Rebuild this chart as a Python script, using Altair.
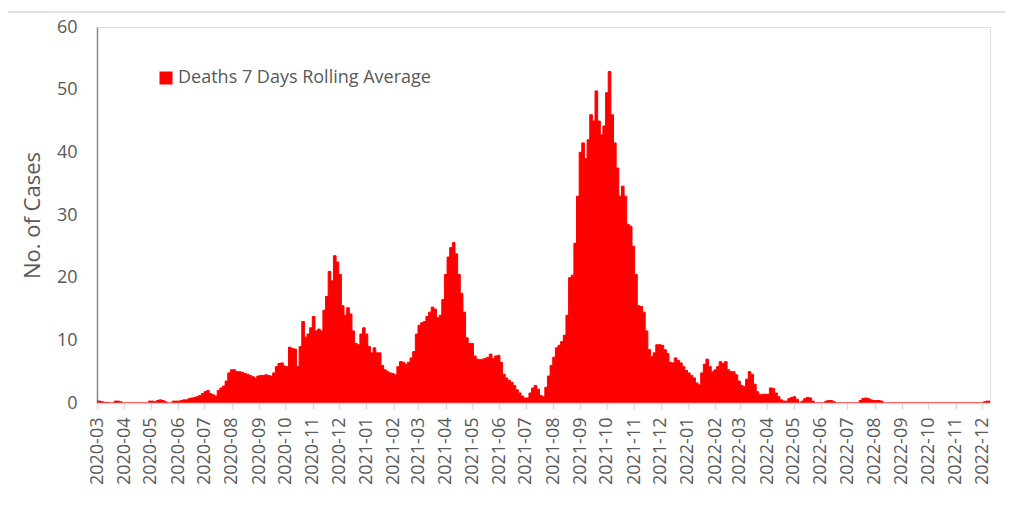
import altair as alt
import pandas as pd

# ---- data (7-day rolling average of deaths, sampled every 3 days from 2020-03-01) ----
start_date = "2020-03-01"
step_days = 3
series_name = "Deaths 7 Days Rolling Average"

vals_2020 = [
    0.3, 0.3, 0.2, 0.1, 0.1, 0, 0, 0.3, 0.3, 0.2,
    0, 0, 0, 0, 0, 0, 0, 0, 0, 0,
    0.3, 0.3, 0.2, 0.4, 0.5, 0.4, 0.2, 0, 0, 0.3,
    0.3, 0.3, 0.4, 0.5, 0.5, 0.7, 0.8, 0.9, 1.0, 1.2,
    1.5, 1.8, 2.0, 1.5, 1.3, 1.1, 2.0, 2.4, 2.7, 3.5,
    4.8, 5.3, 5.3, 5.0, 5.0, 4.9, 4.7, 4.6, 4.4, 4.2,
    4.0, 4.3, 4.4, 4.4, 4.5, 4.4, 4.3, 4.8, 5.8, 6.3,
    6.4, 5.9, 5.8, 8.9, 8.7, 8.6, 5.8, 9.0, 13.0, 10.5,
    11.0, 12.0, 13.8, 11.5, 11.8, 11.5, 14.8, 17.0, 21.0, 19.5,
    23.5, 22.5, 20.5, 15.5, 14.0, 15.2, 14.2, 11.5, 9.5, 9.3,
    11.0, 12.0,
]

vals_2021 = [
    11.0, 9.0, 8.0, 8.8, 8.0, 8.0, 6.0, 5.3,
    5.0, 4.8, 4.7, 4.5, 5.8, 6.6, 6.5, 6.2, 6.5, 7.2,
    8.2, 11.0, 12.4, 12.8, 13.0, 13.8, 14.5, 15.3, 15.0, 13.6,
    14.0, 16.5, 20.5, 23.3, 24.8, 25.6, 23.8, 20.5, 17.5, 14.5,
    10.4, 9.5, 9.5, 7.5, 7.0, 6.9, 7.0, 7.1, 7.3, 7.8,
    7.1, 7.5, 7.6, 6.5, 4.6, 4.0, 3.6, 3.3, 2.8, 2.1,
    1.6, 1.1, 0.8, 0.8, 1.6, 2.4, 2.8, 2.2, 1.2, 1.0,
    2.5, 4.3, 6.0, 7.3, 8.8, 9.2, 9.8, 10.8, 14.0, 20.0,
    20.4, 25.5, 33.0, 40.0, 41.5, 39.0, 42.0, 46.0, 45.0, 49.8,
    45.0, 42.8, 44.2, 49.5, 52.9, 46.0, 41.5, 37.5, 33.0, 34.6,
    33.0, 28.5, 28.2, 25.0, 20.5, 15.5, 15.4, 14.5, 11.5, 8.5,
    7.4, 8.0, 9.3, 9.3, 9.2, 8.5, 7.9, 6.5, 6.4, 7.2,
    6.8, 6.4, 5.8, 5.2,
]

vals_2022 = [
    4.8, 4.4, 4.0, 3.2, 2.9, 4.8,
    6.2, 7.0, 5.8, 5.0, 5.3, 5.8, 6.6, 6.3, 6.6, 5.3,
    5.0, 5.0, 4.5, 3.5, 2.8, 2.6, 3.8, 5.0, 4.6, 3.0,
    1.8, 1.3, 1.4, 1.4, 1.4, 2.4, 2.3, 1.6, 1.0, 0.5,
    0.3, 0.3, 0.7, 0.9, 1.0, 0.6, 0.1, 0.3, 0.7, 0.9,
    0.8, 0.3, 0, 0, 0, 0, 0.3, 0.4, 0.4, 0.2,
    0, 0, 0, 0, 0, 0, 0, 0, 0, 0.4,
    0.7, 0.8, 0.7, 0.5, 0.4, 0.4, 0.4, 0.3, 0, 0,
    0, 0, 0, 0, 0, 0, 0, 0, 0, 0,
    0, 0, 0, 0, 0, 0, 0, 0, 0, 0,
    0, 0, 0, 0, 0, 0, 0, 0, 0, 0,
    0, 0, 0, 0, 0, 0, 0.2, 0.3, 0.3,
]

y_ticks = [0, 10, 20, 30, 40, 50, 60]
x_first_month = "2020-03-01"
x_last_month = "2022-12-01"
x_end = "2022-12-10"

values = vals_2020 + vals_2021 + vals_2022
dates = pd.date_range(start_date, periods=len(values), freq=f"{step_days}D")
df = pd.DataFrame({"date": dates, "deaths": values, "series": series_name})

months = pd.date_range(x_first_month, x_last_month, freq="MS")
month_values = [alt.DateTime(year=int(d.year), month=int(d.month), date=1) for d in months]
s = pd.Timestamp(start_date)
e = pd.Timestamp(x_end)
x_domain = [alt.DateTime(year=int(s.year), month=int(s.month), date=int(s.day)),
            alt.DateTime(year=int(e.year), month=int(e.month), date=int(e.day))]

TEXT = "#595959"
FONT = "Open Sans"

area = alt.Chart(df).mark_area(
    interpolate="step", stroke="#ff0000", strokeWidth=1, opacity=1, clip=True
).encode(
    x=alt.X(
        "date:T",
        scale=alt.Scale(domain=x_domain),
        axis=alt.Axis(
            values=month_values, format="%Y-%m", labelAngle=270, title=None,
            grid=False, domainColor="#d9d9d9", domainWidth=1.5,
            tickColor="#d9d9d9", tickWidth=1.5, tickSize=6, labelPadding=8,
            labelFont=FONT, labelFontSize=18, labelColor=TEXT, zindex=1,
            labelOverlap=False,
        ),
    ),
    y=alt.Y(
        "deaths:Q",
        scale=alt.Scale(domain=[0, 60], nice=False),
        axis=alt.Axis(
            values=y_ticks, title="No. of Cases", grid=False, ticks=False,
            domainColor="#898989", domainWidth=1.5, labelPadding=20,
            labelFont=FONT, labelFontSize=18, labelColor=TEXT,
            titleFont=FONT, titleFontSize=22, titleFontWeight="normal",
            titleColor=TEXT, titlePadding=12,
        ),
    ),
    color=alt.Color(
        "series:N",
        scale=alt.Scale(range=["#ff0000"]),
        legend=alt.Legend(
            title=None, orient="none", legendX=60, legendY=42, padding=0,
            symbolType="square", symbolSize=169, symbolStrokeWidth=0,
            labelFont=FONT, labelFontSize=18, labelColor=TEXT, labelOffset=3,
            labelLimit=500,
        ),
    ),
)

frame = alt.Chart(pd.DataFrame({"k": [0]})).mark_rect(
    filled=False, stroke="#c8c8c8", strokeWidth=1
).encode(
    x=alt.value(-90), x2=alt.value(960), y=alt.value(-15), y2=alt.value(500)
)

chart = alt.layer(frame, area).properties(
    width=893, height=376,
    autosize=alt.AutoSizeParams(type="none"),
    padding={"left": 89, "top": 19, "right": 15, "bottom": 95},
).configure_view(
    stroke="#898989", strokeWidth=1.5
).configure(background="white")

chart.save("out.html", embed_options={"renderer": "svg", "actions": False})
